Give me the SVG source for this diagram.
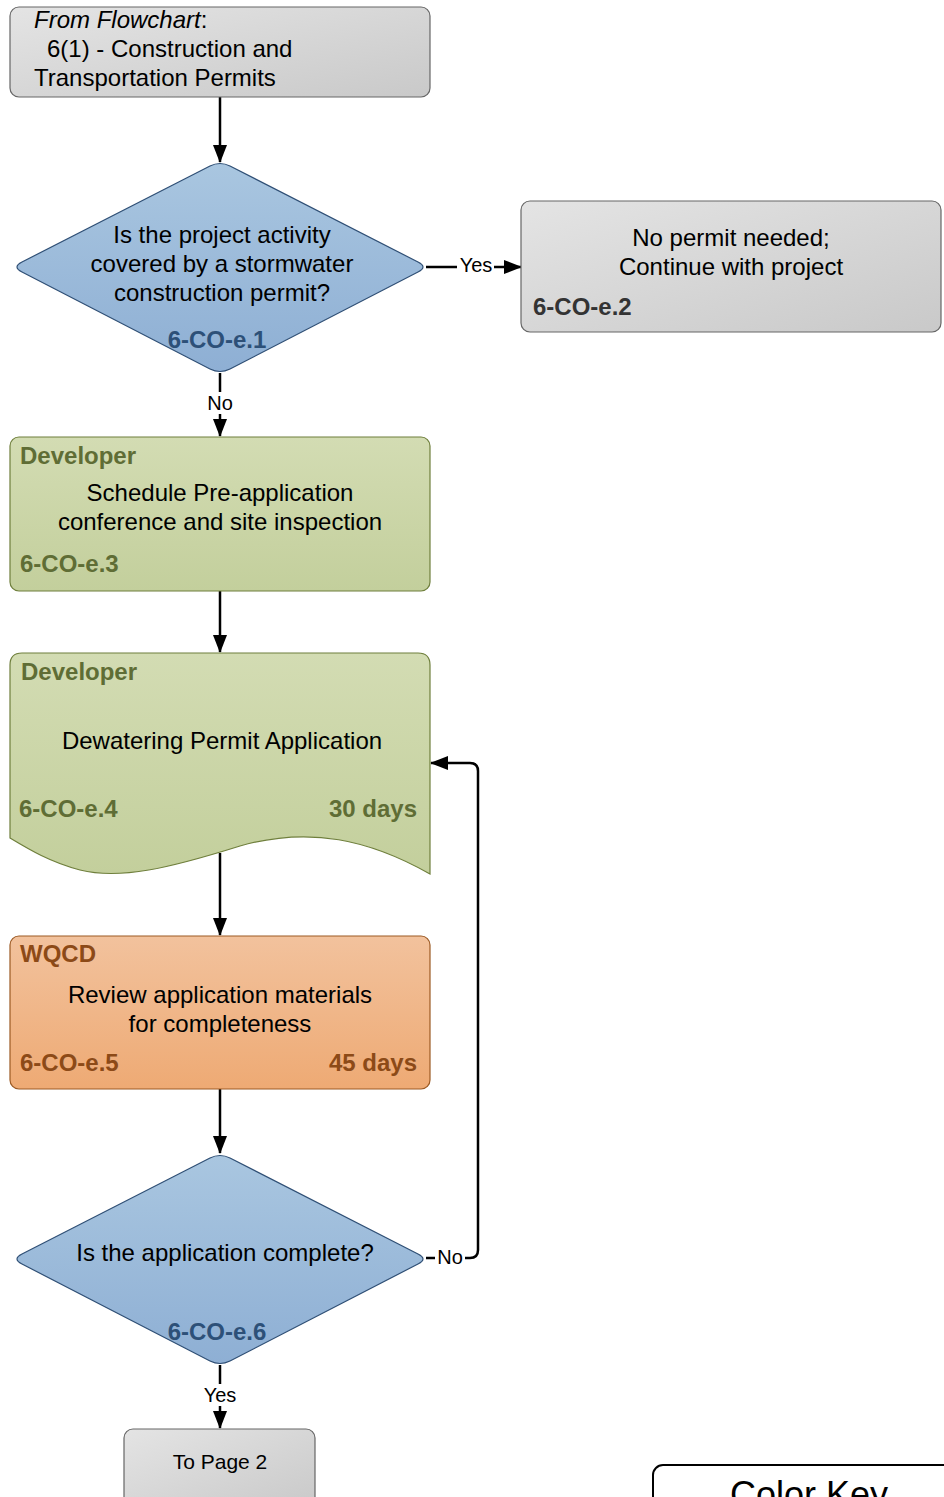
<svg xmlns="http://www.w3.org/2000/svg" width="944" height="1497" viewBox="0 0 944 1497">
<defs>
<linearGradient id="gGray" x1="0" y1="0" x2="1" y2="1"><stop offset="0" stop-color="#e4e4e4"/><stop offset="1" stop-color="#c9c9c9"/></linearGradient>
<linearGradient id="gBlue" x1="0" y1="0" x2="0" y2="1"><stop offset="0" stop-color="#a9c6e0"/><stop offset="1" stop-color="#8eafd4"/></linearGradient>
<linearGradient id="gGreen" x1="0" y1="0" x2="0" y2="1"><stop offset="0" stop-color="#d3dcb3"/><stop offset="1" stop-color="#c3cf9c"/></linearGradient>
<linearGradient id="gOrange" x1="0" y1="0" x2="0" y2="1"><stop offset="0" stop-color="#f2c29d"/><stop offset="1" stop-color="#eeaa74"/></linearGradient>
<marker id="arr" viewBox="0 0 18 14" refX="17" refY="7" markerWidth="18" markerHeight="14" markerUnits="userSpaceOnUse" orient="auto"><path d="M0,0 L18,7 L0,14 Z" fill="#000"/></marker>
</defs>
<style>
text{font-family:"Liberation Sans",Arial,sans-serif;}
.t{font-size:24px;fill:#000;text-anchor:middle;}
.tl{font-size:24px;fill:#000;}
.b{font-size:24px;font-weight:bold;}
.lab{font-size:20px;fill:#000;text-anchor:middle;}
.conn{fill:none;stroke:#000;stroke-width:2.5;}
.gray{fill:url(#gGray);stroke:#666;stroke-width:1.2;}
.blue{fill:url(#gBlue);stroke:#2f4f75;stroke-width:1.2;}
.green{fill:url(#gGreen);stroke:#6f7f3c;stroke-width:1.2;}
.orange{fill:url(#gOrange);stroke:#9c5a24;stroke-width:1.2;}
.idb{fill:#2d5078;}
.idg{fill:#5f6d35;}
.ido{fill:#8c4a17;}
.idk{fill:#333;}
</style>

<g id="connectors">
<line class="conn" x1="220" y1="97" x2="220" y2="162" marker-end="url(#arr)"/>
<line class="conn" x1="426" y1="267" x2="521" y2="267" marker-end="url(#arr)"/>
<rect x="457" y="255" width="37" height="22" fill="#fff"/>
<text class="lab" x="476" y="272">Yes</text>
<line class="conn" x1="220" y1="373" x2="220" y2="436" marker-end="url(#arr)"/>
<rect x="204" y="392" width="32" height="22" fill="#fff"/>
<text class="lab" x="220" y="410">No</text>
<line class="conn" x1="220" y1="591" x2="220" y2="652" marker-end="url(#arr)"/>
<line class="conn" x1="220" y1="853" x2="220" y2="935" marker-end="url(#arr)"/>
<line class="conn" x1="220" y1="1089" x2="220" y2="1153" marker-end="url(#arr)"/>
<path class="conn" d="M426,1258 L470,1258 Q478,1258 478,1250 L478,771 Q478,763 470,763 L431,763" marker-end="url(#arr)"/>
<rect x="435" y="1246" width="30" height="22" fill="#fff"/>
<text class="lab" x="450" y="1264">No</text>
<line class="conn" x1="220" y1="1365" x2="220" y2="1428" marker-end="url(#arr)"/>
<rect x="201" y="1384" width="38" height="22" fill="#fff"/>
<text class="lab" x="220" y="1402">Yes</text>
</g>

<g id="node-from">
<rect class="gray" x="10" y="7" width="420" height="90" rx="9"/>
<text class="tl" x="34" y="28"><tspan font-style="italic">From Flowchart</tspan>:</text>
<text class="tl" x="47" y="57">6(1) - Construction and</text>
<text class="tl" x="34" y="86">Transportation Permits</text>
</g>

<g id="node-e1">
<path class="blue" d="M210,166 Q220,161 230,166 L418,262 Q428,267 418,272 L230,369 Q220,374 210,369 L22,272 Q12,267 22,262 Z"/>
<text class="t" x="222" y="243">Is the project activity</text>
<text class="t" x="222" y="272">covered by a stormwater</text>
<text class="t" x="222" y="301">construction permit?</text>
<text class="b idb" x="217" y="348" text-anchor="middle">6-CO-e.1</text>
</g>

<g id="node-e2">
<rect class="gray" x="521" y="201" width="420" height="131" rx="9"/>
<text class="t" x="731" y="246">No permit needed;</text>
<text class="t" x="731" y="275">Continue with project</text>
<text class="b idk" x="533" y="315">6-CO-e.2</text>
</g>

<g id="node-e3">
<rect class="green" x="10" y="437" width="420" height="154" rx="9"/>
<text class="b idg" x="20" y="464">Developer</text>
<text class="t" x="220" y="501">Schedule Pre-application</text>
<text class="t" x="220" y="530">conference and site inspection</text>
<text class="b idg" x="20" y="572">6-CO-e.3</text>
</g>

<g id="node-e4">
<path class="green" d="M10,665 Q10,653 22,653 L418,653 Q430,653 430,665 L430,874 C370,840 310,826 240,846 C170,868 120,880 80,870 C50,862 30,850 10,838 Z"/>
<text class="b idg" x="21" y="680">Developer</text>
<text class="t" x="222" y="749">Dewatering Permit Application</text>
<text class="b idg" x="19" y="817">6-CO-e.4</text>
<text class="b idg" x="417" y="817" text-anchor="end">30 days</text>
</g>

<g id="node-e5">
<rect class="orange" x="10" y="936" width="420" height="153" rx="9"/>
<text class="b ido" x="20" y="962">WQCD</text>
<text class="t" x="220" y="1003">Review application materials</text>
<text class="t" x="220" y="1032">for completeness</text>
<text class="b ido" x="20" y="1071">6-CO-e.5</text>
<text class="b ido" x="417" y="1071" text-anchor="end">45 days</text>
</g>

<g id="node-e6">
<path class="blue" d="M210,1158 Q220,1153 230,1158 L418,1254 Q428,1259 418,1264 L230,1361 Q220,1366 210,1361 L22,1264 Q12,1259 22,1254 Z"/>
<text class="t" x="225" y="1261">Is the application complete?</text>
<text class="b idb" x="217" y="1340" text-anchor="middle">6-CO-e.6</text>
</g>

<g id="node-page2">
<rect class="gray" x="124" y="1429" width="191" height="80" rx="9"/>
<text x="220" y="1469" font-size="21" text-anchor="middle" fill="#000">To Page 2</text>
</g>

<g id="node-colorkey">
<rect x="653" y="1465" width="320" height="80" rx="10" fill="#fff" stroke="#000" stroke-width="2"/>
<text x="809" y="1507" font-size="36" text-anchor="middle" fill="#000">Color Key</text>
</g>
</svg>
